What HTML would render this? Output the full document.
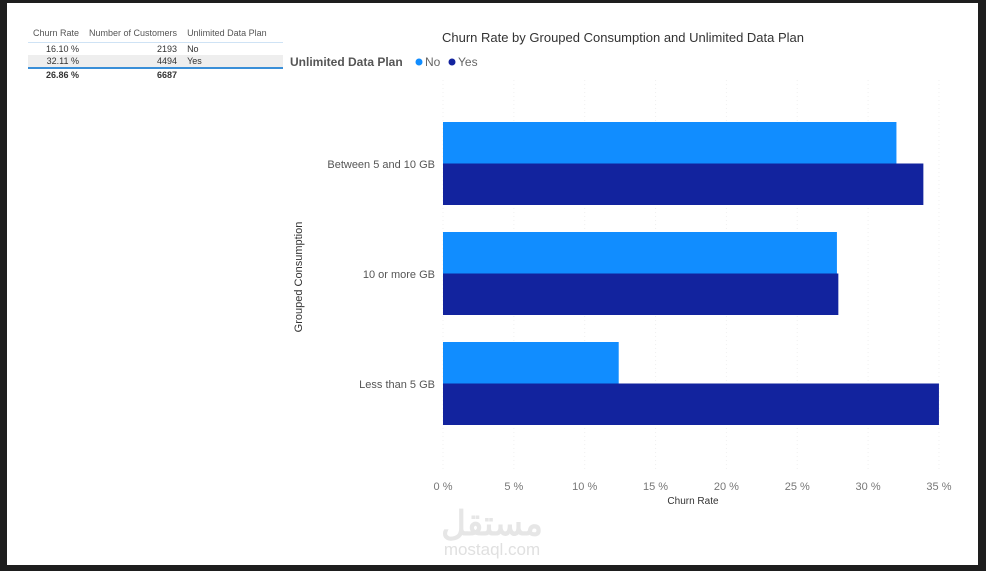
<!DOCTYPE html>
<html><head><meta charset="utf-8"><style>
body{margin:0;width:986px;height:571px;background:#1e1e1e;position:relative;overflow:hidden;font-family:"Liberation Sans",sans-serif}
#panel{position:absolute;left:7px;top:3px;width:971px;height:562px;background:#fff}
table{position:absolute;left:28px;top:26px;border-collapse:collapse;font-size:9px;color:#333}
th{font-weight:normal;color:#555;padding:2px 5px 4px;border-bottom:1px solid #cfe3f5;text-align:left}
td{padding:1px 5px;text-align:right}
td.l{text-align:left;padding-right:80px}
tr.alt td{background:#eee}
tr.tot td{font-weight:bold;border-top:2px solid #3a8fd8}
</style></head><body>
<div id="panel"></div>
<table>
<tr><th>Churn Rate</th><th>Number of Customers</th><th style="padding-right:16px">Unlimited Data Plan</th></tr>
<tr><td>16.10 %</td><td>2193</td><td class="l">No</td></tr>
<tr class="alt"><td>32.11 %</td><td>4494</td><td class="l">Yes</td></tr>
<tr class="tot"><td>26.86 %</td><td>6687</td><td class="l"></td></tr>
</table>
<svg id="chart" width="986" height="571" style="position:absolute;left:0;top:0" font-family="Liberation Sans, sans-serif"></svg>
<script>
const categories=["Between 5 and 10 GB","10 or more GB","Less than 5 GB"];
const seriesNo=[32.0,27.8,12.4];
const seriesYes=[33.9,27.9,35.0];
const ticks=[0,5,10,15,20,25,30,35];
const NS="http://www.w3.org/2000/svg";
const svg=document.getElementById('chart');
function el(t,a,txt){const e=document.createElementNS(NS,t);for(const k in a)e.setAttribute(k,a[k]);if(txt!==undefined)e.textContent=txt;svg.appendChild(e);return e;}
const x0=443,pxPer=14.17;
const xs=v=>x0+v*pxPer;
const bandTop=v=>122+v*110;
let t=el('text',{x:623,y:42,'font-size':13,fill:'#333','text-anchor':'middle'},'Churn Rate by Grouped Consumption and Unlimited Data Plan');


t=el('text',{x:290,y:66,'font-size':12,'font-weight':'bold',fill:'#555'},'Unlimited Data Plan');


[['No','#118DFF',419],['Yes','#12239E',452]].forEach(([n,c,x])=>{
 const g=el('circle',{cx:x,cy:62,r:3.5,fill:c});
 
 
 const tx=el('text',{x:x+6,y:66,'font-size':12,fill:'#666'},n);
 
 
});
ticks.forEach(v=>{
 const l=el('line',{x1:xs(v),x2:xs(v),y1:80,y2:470,stroke:'#f0f0f0','stroke-dasharray':'1,3'});
 
 
 const tx=el('text',{x:xs(v),y:490,'font-size':11,fill:'#777','text-anchor':'middle'},v+' %');
 
 
});
t=el('text',{x:693,y:504,'font-size':10,fill:'#333','text-anchor':'middle'},'Churn Rate');


t=el('text',{x:0,y:0,'font-size':11,fill:'#333','text-anchor':'middle',transform:'translate(302,277) rotate(-90)'},'Grouped Consumption');


categories.forEach((c,i)=>{
 const top=bandTop(i);
 const tx=el('text',{x:435,y:top+46,'font-size':11,fill:'#555','text-anchor':'end'},c);
 
 
 const b1=el('rect',{x:x0,y:top,width:xs(seriesNo[i])-x0,height:41.5,fill:'#118DFF'});
 
 
 const b2=el('rect',{x:x0,y:top+41.5,width:xs(seriesYes[i])-x0,height:41.5,fill:'#12239E'});
 
 
});
t=el('text',{x:492,y:535,'font-size':34,'font-weight':'bold',fill:'#e6e6e6','text-anchor':'middle'},'مستقل');


t=el('text',{x:492,y:555,'font-size':17,fill:'#e0e0e0','text-anchor':'middle'},'mostaql.com');


</script>
</body></html>
